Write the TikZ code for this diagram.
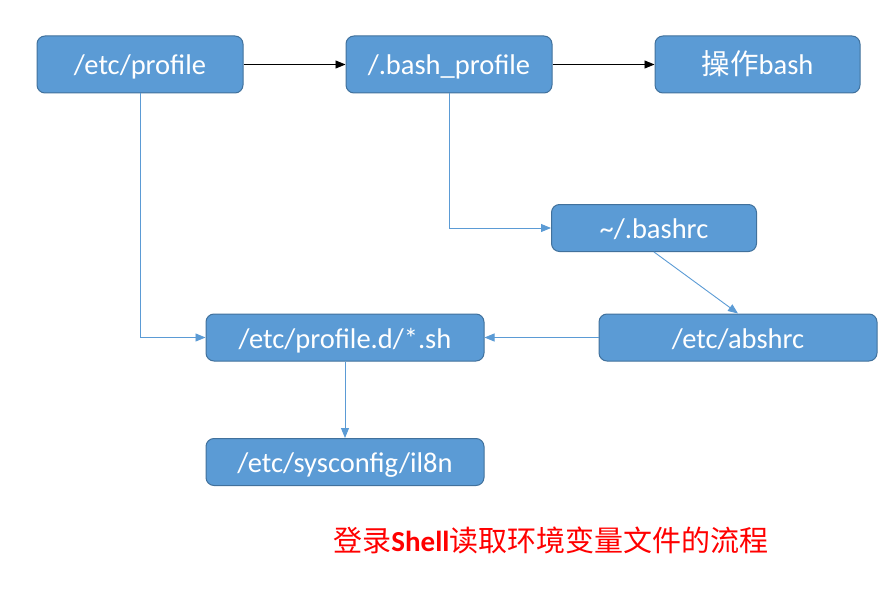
\documentclass[tikz,border=0pt]{standalone}
\usepackage{fontspec}
\setmainfont{Carlito}
\newfontfamily\cjk{Noto Sans CJK SC}
\usetikzlibrary{arrows.meta}
\definecolor{boxfill}{HTML}{5B9BD5}
\definecolor{boxline}{HTML}{41719C}
\definecolor{lineblue}{HTML}{5B9BD5}
\tikzset{
  box/.style={draw=boxline, line width=1pt, fill=boxfill, rounded corners=8pt,
    text=white, font=\fontsize{28.5}{32}\selectfont, inner sep=0pt,
    text height=21pt, text depth=0pt,
    minimum height=#1, anchor=center},
  box/.default=57pt,
  blackarrow/.style={draw=black, line width=0.9pt, -{Triangle[length=10pt,width=8pt]}},
  bluearrow/.style={draw=lineblue, line width=0.9pt, -{Triangle[length=10pt,width=8pt]}},
}
\begin{document}
\begin{tikzpicture}[x=1pt,y=-1pt]
\useasboundingbox (0,0) rectangle (896,596);
\node[box, minimum width=206pt] (profile) at (140,64.5) {/etc/profile};
\node[box, minimum width=206pt] (bashprofile) at (449,64.5) {/.bash\_profile};
\node[box, minimum width=205pt] (opbash) at (757.5,64.5) {{\cjk 操作}bash};
\node[box=47pt, minimum width=205pt] (bashrc) at (654,228) {\textasciitilde/.bashrc};
\node[box=47pt, minimum width=278pt] (abshrc) at (738,337.5) {/etc/abshrc};
\node[box=47pt, minimum width=278pt] (profiled) at (345,337.5) {/etc/profile.d/*.sh};
\node[box=47pt, minimum width=278pt] (sysconfig) at (345,462) {/etc/sysconfig/il8n};
\node[text=red, font=\fontsize{29}{34}\selectfont, inner sep=0pt] (title) at (551,540)
  {{\cjk 登录}\textbf{Shell}{\cjk 读取环境变量文件的流程}};
\draw[blackarrow] (profile) -- (bashprofile);
\draw[blackarrow] (bashprofile) -- (opbash);
\draw[bluearrow] (profile.south) |- (profiled.west);
\draw[bluearrow] (bashprofile.south) |- (bashrc.west);
\draw[bluearrow] (bashrc.south) -- (abshrc.north);
\draw[bluearrow] (abshrc.west) -- (profiled.east);
\draw[bluearrow] (profiled.south) -- (sysconfig.north);
\end{tikzpicture}
\end{document}
